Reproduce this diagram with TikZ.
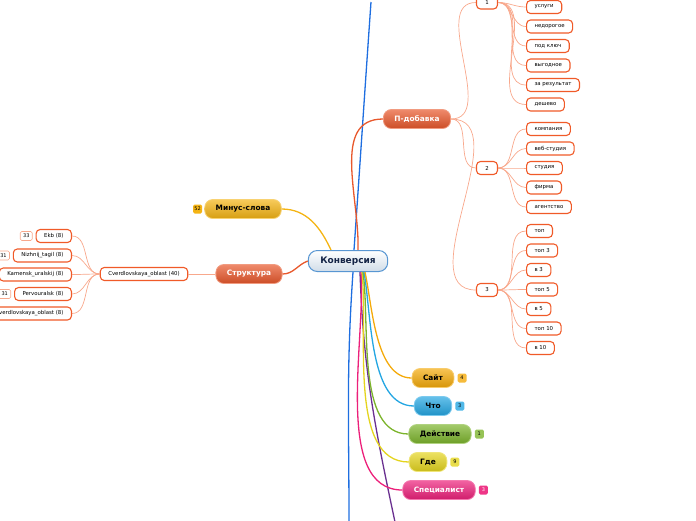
\documentclass[tikz,border=0pt]{standalone}
\usepackage{fontspec}
\setmainfont{DejaVu Sans}
\setsansfont{DejaVu Sans}
\usetikzlibrary{positioning}
\definecolor{konblue}{RGB}{88,150,210}
\definecolor{konfill}{RGB}{208,220,232}
\definecolor{kontext}{RGB}{20,36,70}
\definecolor{redorange}{RGB}{232,88,44}
\definecolor{leafred}{RGB}{240,90,40}
\definecolor{linksalmon}{RGB}{248,168,140}
\definecolor{minusyellow}{RGB}{244,180,20}
\definecolor{sitegold}{RGB}{244,170,10}
\definecolor{whatblue}{RGB}{36,166,226}
\definecolor{actgreen}{RGB}{124,180,44}
\definecolor{whereyellow}{RGB}{228,212,30}
\definecolor{specpink}{RGB}{236,32,122}
\definecolor{upblue}{RGB}{30,110,224}
\definecolor{purpleline}{RGB}{106,48,144}

\begin{document}
\begin{tikzpicture}[x=1pt, y=1pt,
    topic/.style={rectangle, rounded corners=8pt, draw=#1!60!white, top color=#1!70!white, bottom color=#1!88!black, minimum height=19pt, inner xsep=11pt, inner ysep=0pt, text=black, font=\fontsize{7.4}{8}\selectfont\bfseries, line width=0.8pt},
    leaf/.style={rectangle, rounded corners=4pt, draw=leafred, fill=white, line width=1.1pt, minimum height=13pt, inner xsep=8pt, inner ysep=0pt, font=\fontsize{5.4}{6}\selectfont},
    badge/.style={rectangle, rounded corners=1.5pt, fill=#1, minimum height=9pt, minimum width=9pt, inner sep=1pt, font=\fontsize{5}{5}\selectfont},
    link/.style={draw=linksalmon, line width=0.7pt},
    branch/.style={draw=#1, line width=1.3pt}
  ]
    \useasboundingbox (0,0) rectangle (696,-520);
    \clip (0,0) rectangle (696,-520);

    % Central topic
    \node[rectangle, rounded corners=9pt, draw=konblue, line width=1pt, top color=white, bottom color=konfill, minimum height=21pt, inner xsep=12pt, inner ysep=0pt, text=kontext, font=\fontsize{9}{10}\selectfont\bfseries] (kon) at (348,-261) {Конверсия};

    % Main topics
    \node[topic=minusyellow] (minus) at (243,-209) {Минус-слова};
    \node[badge=minusyellow, left=2pt of minus] (minusb) {52};
    \node[topic=redorange, text=white] (struct) at (249,-274) {Структура};
    \node[topic=redorange, text=white] (pdob) at (417,-119) {П-добавка};

    \node[topic=sitegold] (site) at (433,-378) {Сайт};
    \node[badge=sitegold!80!white, right=3pt of site] (siteb) {4};
    \node[topic=whatblue] (what) at (433,-406) {Что};
    \node[badge=whatblue!80!white, right=3pt of what] (whatb) {3};
    \node[topic=actgreen] (act) at (440,-434) {Действие};
    \node[badge=actgreen!80!white, right=3pt of act] (actb) {1};
    \node[topic=whereyellow] (where) at (428,-462) {Где};
    \node[badge=whereyellow!80!white, right=3pt of where] (whereb) {9};
    \node[topic=specpink, text=white] (spec) at (439,-490) {Специалист};
    \node[badge=specpink!90!white, text=white, right=3pt of spec] (specb) {3};

    % Free ends of branches leaving the picture
    \coordinate (upend) at (371,-2);
    \coordinate (downend) at (349,-522);
    \coordinate (purpend) at (395,-522);

    % Branches from the centre
    \draw[branch=upblue] ([xshift=6pt]kon.north) to[out=86,in=-94] (upend);
    \draw[branch=upblue] ([xshift=5pt]kon.south) to[out=-94,in=90] (downend);
    \draw[branch=redorange] ([xshift=10pt]kon.north) to[out=88,in=180] (pdob.west);
    \draw[branch=minusyellow] ([xshift=-17pt]kon.north) to[out=115,in=0] (minus.east);
    \draw[branch=redorange] (kon.west) to[out=200,in=0] (struct.east);
    \draw[branch=purpleline] ([xshift=12pt]kon.south) to[out=-88,in=102] (purpend);
    \draw[branch=specpink] ([xshift=13pt]kon.south) to[out=-86,in=180, looseness=0.8] (spec.west);
    \draw[branch=whereyellow] ([xshift=14pt]kon.south) to[out=-84,in=180, looseness=0.8] (where.west);
    \draw[branch=actgreen] ([xshift=15pt]kon.south) to[out=-82,in=180, looseness=0.8] (act.west);
    \draw[branch=whatblue] ([xshift=16pt]kon.south) to[out=-80,in=180, looseness=0.8] (what.west);
    \draw[branch=sitegold] ([xshift=17pt]kon.south) to[out=-78,in=180, looseness=0.8] (site.west);

    % Structure subtree
    \node[leaf] (cverd) at (144,-274) {Cverdlovskaya\_oblast (40)};
    \draw[link] (struct.west) -- (cverd.east);
    \node[leaf, anchor=east] (ekb) at (72,-236) {Ekb (8)};
    \node[leaf, anchor=east] (ntagil) at (72,-255.5) {Nizhnij\_tagil (8)};
    \node[leaf, anchor=east] (kamensk) at (72,-274.5) {Kamensk\_uralskij (8)};
    \node[leaf, anchor=east] (pervo) at (72,-294) {Pervouralsk (8)};
    \node[leaf, anchor=east] (sverd) at (72,-313.5) {Sverdlovskaya\_oblast (8)};
    \foreach \leafname in {ekb, ntagil, kamensk, pervo, sverd}
      \draw[link] (cverd.west) to[out=180,in=0] (\leafname.east);
    \node[badge=white, draw=linksalmon, line width=0.6pt, minimum width=12pt, left=3pt of ekb] (ekbb) {33};
    \node[badge=white, draw=linksalmon, line width=0.6pt, minimum width=12pt, left=3pt of ntagil] (ntagilb) {31};
    \node[badge=white, draw=linksalmon, line width=0.6pt, minimum width=12pt, left=3pt of pervo] (pervob) {31};

    % P-dobavka subtree
    \node[leaf, minimum width=21pt, inner xsep=2pt] (g1) at (487,-2.5) {1};
    \node[leaf, minimum width=21pt, inner xsep=2pt] (g2) at (487,-168) {2};
    \node[leaf, minimum width=21pt, inner xsep=2pt] (g3) at (487,-290) {3};
    \foreach \grp in {g1, g2, g3}
      \draw[link] (pdob.east) to[out=0,in=180] (\grp.west);

    \foreach \word [count=\i] in {услуги, недорогое, под ключ, выгодное, за результат, дешево} {
      \node[leaf, anchor=west] (a\i) at (526,{-7-(\i-1)*19.5}) {\word};
      \draw[link] (g1.east) to[out=0,in=180] (a\i.west);
    }
    \foreach \word [count=\i] in {компания, веб-студия, студия, фирма, агентство} {
      \node[leaf, anchor=west] (b\i) at (526,{-129-(\i-1)*19.5}) {\word};
      \draw[link] (g2.east) to[out=0,in=180] (b\i.west);
    }
    \foreach \word [count=\i] in {топ, топ 3, в 3, топ 5, в 5, топ 10, в 10} {
      \node[leaf, anchor=west] (c\i) at (526,{-231-(\i-1)*19.5}) {\word};
      \draw[link] (g3.east) to[out=0,in=180] (c\i.west);
    }
  \end{tikzpicture}
\end{document}
